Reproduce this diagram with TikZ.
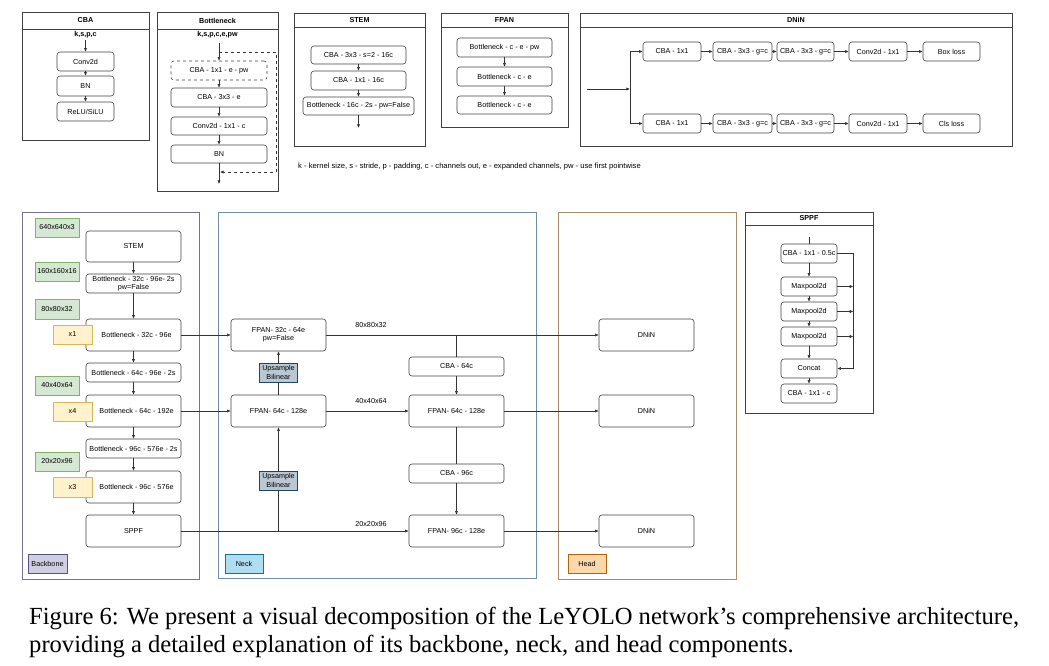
\documentclass[tikz,border=0pt]{standalone}
\usepackage{fontspec}
\setmainfont{Liberation Serif}
\setsansfont{Liberation Sans}
\usetikzlibrary{arrows.meta}

\tikzset{
  txt/.style={font=\sffamily\fontsize{7.2}{8.2}\selectfont},
  wh/.style 2 args={minimum width=#1pt, minimum height=#2pt},
  blk/.style={txt, draw=black!75, line width=0.6pt, rounded corners=3pt, fill=white, inner sep=0pt, align=center},
  dblk/.style={blk, dashed},
  tag/.style={txt, line width=0.6pt, inner sep=0pt, align=center},
  ttl/.style={font=\sffamily\bfseries\fontsize{7.2}{8.2}\selectfont, inner sep=0pt},
  lbl/.style={txt, inner sep=0pt},
  panel/.style={draw=black!75, line width=0.7pt},
  lnk/.style={black!80, line width=0.6pt},
  arr/.style={lnk, -{Latex[length=3.6pt,width=3.2pt]}},
}

\begin{document}
\begin{tikzpicture}[x=1pt,y=-1pt]
\definecolor{shapefill}{HTML}{D5E8D4}\definecolor{shapedraw}{HTML}{82B366}
\definecolor{repfill}{HTML}{FFF2CC}\definecolor{repdraw}{HTML}{D6B656}
\definecolor{bbfill}{HTML}{D0CEE2}\definecolor{bbdraw}{HTML}{56517E}
\definecolor{nkfill}{HTML}{B1DDF0}\definecolor{nkdraw}{HTML}{10739E}
\definecolor{hdfill}{HTML}{FAD7AC}\definecolor{hddraw}{HTML}{B46504}
\definecolor{upfill}{HTML}{BAC8D3}\definecolor{updraw}{HTML}{23445D}
\definecolor{bbframe}{HTML}{77738F}\definecolor{nkframe}{HTML}{6F8EA3}\definecolor{hdframe}{HTML}{A88B68}
\useasboundingbox (0,0) rectangle (1049,666);

% CBA
\draw[panel] (22,12) rectangle (149,140); \draw[panel] (22,29) -- (149,29);
\node[ttl] (cba-t) at (85.5,20.5) {CBA};
\node[ttl] (cba-args) at (85.5,35) {k,s,p,c};
\node[blk, wh={57}{19}] (cba-conv) at (85.5,61.5) {Conv2d};
\node[blk, wh={57}{20}] (cba-bn) at (85.5,86) {BN};
\node[blk, wh={57}{19}] (cba-act) at (85.5,111.5) {ReLU/SiLU};
\coordinate (cba-in) at (85.5,40);
\draw[arr] (cba-in) -- (cba-conv);
\draw[arr] (cba-conv) -- (cba-bn);
\draw[arr] (cba-bn) -- (cba-act);

% Bottleneck
\draw[panel] (157,12) rectangle (278,191); \draw[panel] (157,29) -- (278,29);
\node[ttl] (bn-t) at (217.5,20.5) {Bottleneck};
\node[ttl] (bn-args) at (217.5,35) {k,s,p,c,e,pw};
\node[dblk, wh={96}{19}] (bn-pw) at (219,70.5) {CBA - 1x1 - e - pw};
\node[blk, wh={96}{19}] (bn-dw) at (219,97.5) {CBA - 3x3 - e};
\node[blk, wh={96}{18}] (bn-pwl) at (219,126) {Conv2d - 1x1 - c};
\node[blk, wh={96}{18}] (bn-bn) at (219,154) {BN};
\coordinate (bn-in) at (219,43);
\coordinate (bn-split) at (219,52);
\coordinate (bn-join) at (220,172);
\coordinate (bn-out) at (219,184);
\draw[arr] (bn-in) -- (bn-pw);
\draw[arr] (bn-pw) -- (bn-dw);
\draw[arr] (bn-dw) -- (bn-pwl);
\draw[arr] (bn-pwl) -- (bn-bn);
\draw[arr] (bn-bn) -- (bn-out);
\draw[arr, dashed] (bn-split) -- ++(57,0) |- (bn-join);

% STEM
\draw[panel] (294,13) rectangle (425,146); \draw[panel] (294,27) -- (425,27);
\node[ttl] (st-t) at (359.5,20) {STEM};
\node[blk, wh={95}{18}] (st-1) at (358.5,55) {CBA - 3x3 - s=2 - 16c};
\node[blk, wh={95}{19}] (st-2) at (358.5,80.5) {CBA - 1x1 - 16c};
\node[blk, wh={111}{18}] (st-3) at (358.5,106) {Bottleneck - 16c - 2s - pw=False};
\coordinate (st-out) at (358.5,128);
\draw[arr] (st-1) -- (st-2);
\draw[arr] (st-2) -- (st-3);
\draw[arr] (st-3) -- (st-out);

% FPAN
\draw[panel] (441,13) rectangle (568,127); \draw[panel] (441,27) -- (568,27);
\node[ttl] (fp-t) at (504.5,20) {FPAN};
\node[blk, wh={95}{19}] (fp-1) at (504.5,47.5) {Bottleneck - c - e - pw};
\node[blk, wh={95}{19}] (fp-2) at (504.5,76.5) {Bottleneck - c - e};
\node[blk, wh={95}{18}] (fp-3) at (504.5,105) {Bottleneck - c - e};
\draw[arr] (fp-1) -- (fp-2);
\draw[arr] (fp-2) -- (fp-3);

\node[lbl, anchor=west, font=\sffamily\fontsize{7.6}{8.6}\selectfont] (legend) at (298,167) {k - kernel size, s - stride, p - padding, c - channels out, e - expanded channels, pw - use first pointwise};

% DNiN
\draw[panel] (580,13) rectangle (1012,146); \draw[panel] (580,27) -- (1012,27);
\node[ttl] (dn-t) at (796,20) {DNiN};
\node[blk, wh={58}{19}] (dn-a1) at (672,51.5) {CBA - 1x1};
\node[blk, wh={59}{19}] (dn-a2) at (742.5,51.5) {CBA - 3x3 - g=c};
\node[blk, wh={57}{19}] (dn-a3) at (805.5,51.5) {CBA - 3x3 - g=c};
\node[blk, wh={58}{19}] (dn-a4) at (878,51.5) {Conv2d - 1x1};
\node[blk, wh={57}{19}] (dn-a5) at (951.5,51.5) {Box loss};
\node[blk, wh={58}{19}] (dn-b1) at (672,123.5) {CBA - 1x1};
\node[blk, wh={59}{19}] (dn-b2) at (742.5,123.5) {CBA - 3x3 - g=c};
\node[blk, wh={57}{19}] (dn-b3) at (805.5,123.5) {CBA - 3x3 - g=c};
\node[blk, wh={58}{19}] (dn-b4) at (878,123.5) {Conv2d - 1x1};
\node[blk, wh={57}{19}] (dn-b5) at (951.5,123.5) {Cls loss};
\coordinate (dn-in) at (587,89);
\coordinate (dn-split) at (630,89);
\draw[arr] (dn-in) -- (dn-split);
\draw[arr] (dn-split) |- (dn-a1);
\draw[arr] (dn-split) |- (dn-b1);
\draw[arr] (dn-a1) -- (dn-a2); \draw[arr] (dn-a2) -- (dn-a3); \draw[arr] (dn-a3) -- (dn-a4); \draw[arr] (dn-a4) -- (dn-a5);
\draw[arr] (dn-b1) -- (dn-b2); \draw[arr] (dn-b2) -- (dn-b3); \draw[arr] (dn-b3) -- (dn-b4); \draw[arr] (dn-b4) -- (dn-b5);

% Backbone
\draw[draw=bbframe, line width=0.7pt] (22,212) rectangle (199,579);
\node[tag, draw=shapedraw, fill=shapefill, wh={44}{19}] (t-640) at (57,227.5) {640x640x3};
\node[tag, draw=shapedraw, fill=shapefill, wh={44}{19}] (t-160) at (57,271.5) {160x160x16};
\node[tag, draw=shapedraw, fill=shapefill, wh={44}{20}] (t-80) at (57,309) {80x80x32};
\node[tag, draw=shapedraw, fill=shapefill, wh={44}{19}] (t-40) at (57,385.5) {40x40x64};
\node[tag, draw=shapedraw, fill=shapefill, wh={44}{19}] (t-20) at (57,461.5) {20x20x96};
\node[blk, wh={95}{31}] (b-stem) at (133.5,246.5) {STEM};
\node[blk, wh={95}{19}] (b-1) at (133.5,283.5) {Bottleneck - 32c - 96e- 2s\\pw=False};
\node[blk, wh={95}{32}] (b-x1) at (133.5,335) {\hspace*{6pt}Bottleneck - 32c - 96e};
\node[blk, wh={95}{19}] (b-2) at (133.5,372.5) {Bottleneck - 64c - 96e - 2s};
\node[blk, wh={95}{32}] (b-x4) at (133.5,411) {\hspace*{6pt}Bottleneck - 64c - 192e};
\node[blk, wh={95}{19}] (b-3) at (133.5,448.5) {Bottleneck - 96c - 576e - 2s};
\node[blk, wh={95}{32}] (b-x3) at (133.5,487) {\hspace*{6pt}Bottleneck - 96c - 576e};
\node[blk, wh={95}{32}] (b-sppf) at (133.5,531) {SPPF};
\node[tag, draw=repdraw, fill=repfill, wh={39}{19}] (r-1) at (72.5,334.5) {x1};
\node[tag, draw=repdraw, fill=repfill, wh={39}{19}] (r-4) at (72.5,411.5) {x4};
\node[tag, draw=repdraw, fill=repfill, wh={39}{20}] (r-3) at (72.5,487) {x3};
\node[tag, draw=bbdraw, fill=bbfill, wh={39}{19}] (bb-tag) at (47.5,563.5) {Backbone};
\draw[arr] (b-stem) -- (b-1);
\draw[arr] (b-1) -- (b-x1);
\draw[arr] (b-x1) -- (b-2);
\draw[arr] (b-2) -- (b-x4);
\draw[arr] (b-x4) -- (b-3);
\draw[arr] (b-3) -- (b-x3);
\draw[arr] (b-x3) -- (b-sppf);

% Neck
\draw[draw=nkframe, line width=0.7pt] (218,212) rectangle (536,578);
\node[blk, wh={95}{32}] (n-fpan1) at (278.5,335) {FPAN- 32c - 64e\\pw=False};
\node[tag, draw=updraw, fill=upfill, wh={38}{19}] (n-up1) at (278.5,372.5) {Upsample\\Bilinear};
\node[blk, wh={95}{32}] (n-fpan2) at (278.5,411) {FPAN- 64c - 128e};
\node[tag, draw=updraw, fill=upfill, wh={38}{19}] (n-up2) at (278.5,480.5) {Upsample\\Bilinear};
\node[blk, wh={95}{19}] (n-cba1) at (456.5,366.5) {CBA - 64c};
\node[blk, wh={95}{32}] (n-fpan3) at (456.5,411) {FPAN- 64c - 128e};
\node[blk, wh={95}{19}] (n-cba2) at (456.5,473.5) {CBA - 96c};
\node[blk, wh={95}{32}] (n-fpan4) at (456.5,531) {FPAN- 96c - 128e};
\node[lbl] (s-80) at (371,325) {80x80x32};
\node[lbl] (s-40) at (371,401) {40x40x64};
\node[lbl] (s-20) at (371,524) {20x20x96};
\node[tag, draw=nkdraw, fill=nkfill, wh={38}{19}] (nk-tag) at (244,563.5) {Neck};
\coordinate (n-join) at (b-sppf.east -| n-up2.south);
\coordinate (n-tap) at (n-fpan1.east -| n-cba1.north);
\draw[arr] (b-x1) -- (n-fpan1);
\draw[arr] (b-x4) -- (n-fpan2);
\draw[arr] (b-sppf) -- (n-fpan4);
\draw[lnk] (n-join) -- (n-up2);
\draw[arr] (n-up2) -- (n-fpan2);
\draw[lnk] (n-fpan2) -- (n-up1);
\draw[arr] (n-up1) -- (n-fpan1);
\draw[lnk] (n-tap) -- (n-cba1);
\draw[arr] (n-cba1) -- (n-fpan3);
\draw[arr] (n-fpan2) -- (n-fpan3);
\draw[lnk] (n-fpan3) -- (n-cba2);
\draw[arr] (n-cba2) -- (n-fpan4);

% Head
\draw[draw=hdframe, line width=0.7pt] (558,212) rectangle (736,579);
\node[blk, wh={95}{32}] (h-dnin1) at (646.5,335) {DNiN};
\node[blk, wh={95}{32}] (h-dnin2) at (646.5,411) {DNiN};
\node[blk, wh={95}{32}] (h-dnin3) at (646.5,531) {DNiN};
\node[tag, draw=hddraw, fill=hdfill, wh={38}{19}] (hd-tag) at (587,563.5) {Head};
\draw[arr] (n-fpan1) -- (h-dnin1);
\draw[arr] (n-fpan3) -- (h-dnin2);
\draw[arr] (n-fpan4) -- (h-dnin3);

% SPPF
\draw[panel] (745,212) rectangle (873,413); \draw[panel] (745,225) -- (873,225);
\node[ttl] (sp-t) at (809,218.5) {SPPF};
\node[blk, wh={56}{19}] (sp-cba) at (809,253.5) {CBA - 1x1 - 0.5c};
\node[blk, wh={56}{19}] (sp-mp1) at (809,286.5) {Maxpool2d};
\node[blk, wh={56}{19}] (sp-mp2) at (809,311.5) {Maxpool2d};
\node[blk, wh={56}{19}] (sp-mp3) at (809,336.5) {Maxpool2d};
\node[blk, wh={56}{19}] (sp-cat) at (809,368.5) {Concat};
\node[blk, wh={56}{19}] (sp-out) at (809,393.5) {CBA - 1x1 - c};
\coordinate (sp-in) at (809,237);
\draw[lnk] (sp-in) -- (sp-cba);
\draw[arr] (sp-cba) -- (sp-mp1);
\draw[arr] (sp-mp1) -- (sp-mp2);
\draw[arr] (sp-mp2) -- (sp-mp3);
\draw[arr] (sp-mp3) -- (sp-cat);
\draw[arr] (sp-cat) -- (sp-out);
\draw[arr] (sp-cba.east) -- ++(16,0) |- (sp-cat.east);
\draw[arr] (sp-mp1.east) -- ++(16,0);
\draw[arr] (sp-mp2.east) -- ++(16,0);
\draw[arr] (sp-mp3.east) -- ++(16,0);

% caption
\node[anchor=base west, inner sep=0pt, font=\fontsize{24.6}{28}\selectfont] (cap-1) at (29,624) {Figure 6: We present a visual decomposition of the LeYOLO network’s comprehensive architecture,};
\node[anchor=base west, inner sep=0pt, font=\fontsize{24.6}{28}\selectfont] (cap-2) at (29,652) {providing a detailed explanation of its backbone, neck, and head components.};
\end{tikzpicture}
\end{document}
